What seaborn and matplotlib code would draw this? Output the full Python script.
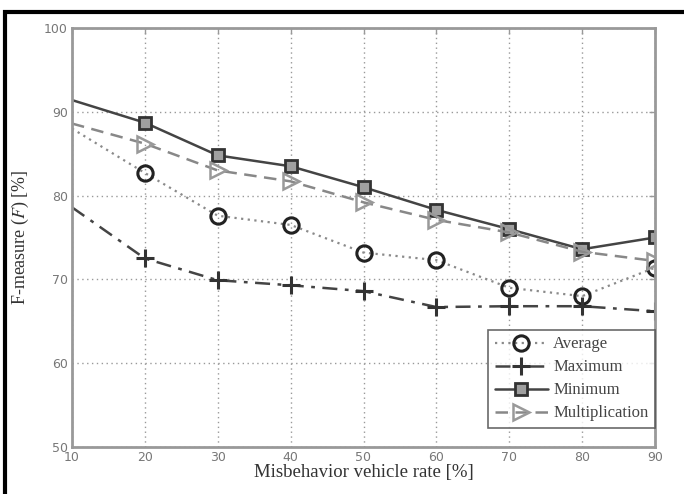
import matplotlib
matplotlib.use("Agg")
import matplotlib.pyplot as plt
import seaborn as sns
import numpy as np
from matplotlib.patches import Rectangle

rates = [10, 20, 30, 40, 50, 60, 70, 80, 90]
average = [88.0, 82.7, 77.6, 76.5, 73.2, 72.3, 69.0, 68.0, 71.4]
maximum = [78.6, 72.5, 69.9, 69.3, 68.6, 66.7, 66.8, 66.8, 66.2]
minimum = [91.4, 88.7, 84.8, 83.5, 81.0, 78.3, 76.0, 73.6, 75.0]
multiplication = [88.6, 86.2, 83.0, 81.7, 79.2, 77.1, 75.6, 73.3, 72.2]
xticks = [10, 20, 30, 40, 50, 60, 70, 80, 90]
yticks = [50, 60, 70, 80, 90, 100]

sns.set_style("white")
plt.rcParams['font.family'] = ['Liberation Serif', 'DejaVu Serif']
plt.rcParams['mathtext.fontset'] = 'stix'

fig = plt.figure(figsize=(6.84, 4.94), dpi=100)
ax = fig.add_axes([72/684, 1-447/494, (655-72)/684, (447-28)/494])

mk = slice(1, None)
sns.lineplot(x=rates, y=average, ax=ax, color='#8a8a8a', linestyle=(0, (1, 2)), lw=1.6,
             marker='o', markersize=11, markerfacecolor='none', markeredgecolor='#222222',
             markeredgewidth=2.2, markevery=mk, label='Average')
sns.lineplot(x=rates, y=maximum, ax=ax, color='#444444', linestyle=(0, (6, 3, 1.5, 3)), lw=1.8,
             marker='+', markersize=13, markeredgecolor='#333333', markeredgewidth=2.2,
             markevery=mk, label='Maximum')
sns.lineplot(x=rates, y=minimum, ax=ax, color='#444444', linestyle='-', lw=1.8,
             marker='s', markersize=9, markerfacecolor='#a0a0a0', markeredgecolor='#333333',
             markeredgewidth=2.0, markevery=mk, label='Minimum')
sns.lineplot(x=rates, y=multiplication, ax=ax, color='#888888', linestyle=(0, (5, 3)), lw=1.8,
             marker='>', markersize=11, markerfacecolor='none', markeredgecolor='#999999',
             markeredgewidth=1.8, markevery=mk, label='Multiplication')

ax.set_xlim(10, 90)
ax.set_ylim(50, 100)
ax.set_xticks(xticks)
ax.set_yticks(yticks)
ax.grid(True, color='#999999', linestyle=(0, (1, 2.5)), lw=1.0)
for s in ax.spines.values():
    s.set_visible(True)
    s.set_color('#999999')
    s.set_linewidth(2.0)
ax.tick_params(direction='in', length=4, width=1, colors='#999999', top=True, right=True,
               labelcolor='#777777', labelsize=9, pad=3)
for lab in ax.get_xticklabels() + ax.get_yticklabels():
    lab.set_fontfamily('DejaVu Sans')

ax.set_xlabel('Misbehavior vehicle rate [%]', fontsize=13.5, color='#333333', labelpad=0)
ax.set_ylabel('F-measure ($F$) [%]', fontsize=13, color='#333333', labelpad=9)

leg = ax.legend(loc='lower right', bbox_to_anchor=(1.0, 0.045), fontsize=12, frameon=True,
                fancybox=False, edgecolor='#444444', borderpad=0.4, labelspacing=0.42,
                handlelength=3.2, handletextpad=0.3, borderaxespad=0)
leg.get_frame().set_linewidth(1.2)
for t in leg.get_texts():
    t.set_color('#444444')

fig.patches.append(Rectangle((5/684, -0.1), 1.2, (1 - 12/494) + 0.1, transform=fig.transFigure,
                             fill=False, edgecolor='black', linewidth=3, zorder=10))

fig.savefig('out.png', dpi=100)
